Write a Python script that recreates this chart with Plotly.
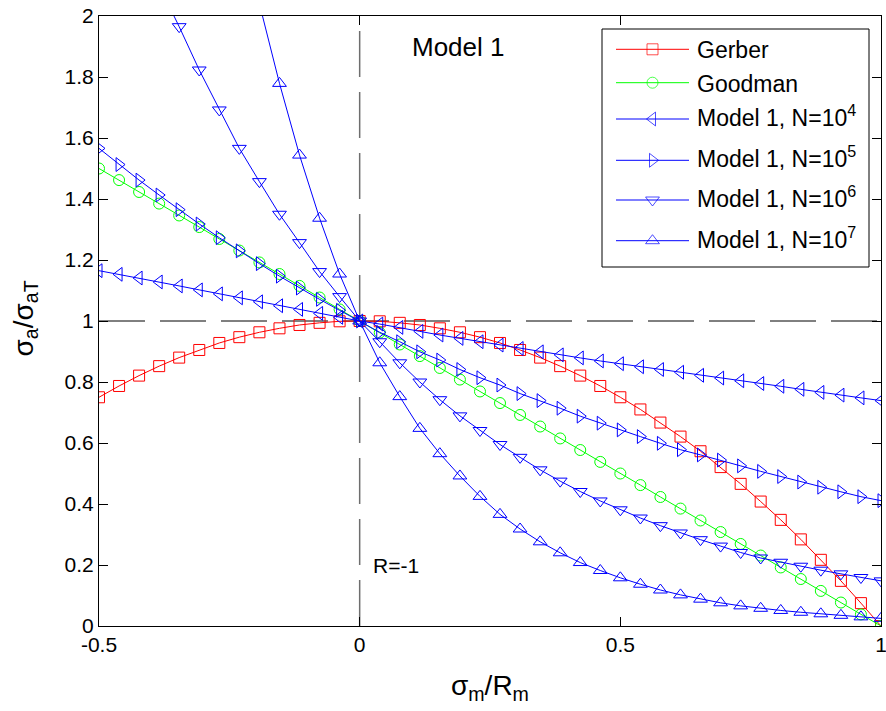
import plotly.graph_objects as go

# mean-stress ratio sigma_m / R_m (40 evaluation points)
x_ratio = [-0.5000, -0.4615, -0.4231, -0.3846, -0.3462, -0.3077, -0.2692, -0.2308,
           -0.1923, -0.1538, -0.1154, -0.0769, -0.0385, 0.0000, 0.0385, 0.0769,
           0.1154, 0.1538, 0.1923, 0.2308, 0.2692, 0.3077, 0.3462, 0.3846,
           0.4231, 0.4615, 0.5000, 0.5385, 0.5769, 0.6154, 0.6538, 0.6923,
           0.7308, 0.7692, 0.8077, 0.8462, 0.8846, 0.9231, 0.9615, 1.0000]

gerber = [0.750, 0.787, 0.821, 0.852, 0.880, 0.905, 0.928, 0.947, 0.963, 0.976,
          0.987, 0.994, 0.999, 1.000, 0.999, 0.994, 0.987, 0.976, 0.963, 0.947,
          0.928, 0.905, 0.880, 0.852, 0.821, 0.787, 0.750, 0.710, 0.667, 0.621,
          0.573, 0.521, 0.466, 0.408, 0.348, 0.284, 0.217, 0.148, 0.075, 0.000]

goodman = [1.500, 1.462, 1.423, 1.385, 1.346, 1.308, 1.269, 1.231, 1.192, 1.154,
           1.115, 1.077, 1.038, 1.000, 0.962, 0.923, 0.885, 0.846, 0.808, 0.769,
           0.731, 0.692, 0.654, 0.615, 0.577, 0.538, 0.500, 0.462, 0.423, 0.385,
           0.346, 0.308, 0.269, 0.231, 0.192, 0.154, 0.115, 0.077, 0.038, 0.000]

model_n4 = [1.165, 1.153, 1.141, 1.128, 1.115, 1.102, 1.089, 1.076, 1.063, 1.050,
            1.038, 1.025, 1.012, 1.000, 0.990, 0.979, 0.966, 0.954, 0.943, 0.932,
            0.921, 0.910, 0.899, 0.889, 0.879, 0.869, 0.860, 0.850, 0.841, 0.832,
            0.822, 0.813, 0.804, 0.795, 0.786, 0.776, 0.766, 0.757, 0.748, 0.739]

model_n5 = [1.566, 1.513, 1.462, 1.413, 1.365, 1.318, 1.273, 1.230, 1.188, 1.147,
            1.108, 1.071, 1.035, 1.000, 0.963, 0.932, 0.899, 0.872, 0.841, 0.814,
            0.790, 0.762, 0.739, 0.714, 0.688, 0.665, 0.643, 0.621, 0.599, 0.578,
            0.561, 0.544, 0.525, 0.507, 0.490, 0.472, 0.455, 0.440, 0.424, 0.411]

model_n6 = [2.550, 2.390, 2.240, 2.100, 1.965, 1.823, 1.692, 1.566, 1.457, 1.350,
            1.257, 1.162, 1.080, 1.000, 0.932, 0.863, 0.800, 0.742, 0.689, 0.641,
            0.595, 0.553, 0.512, 0.475, 0.441, 0.410, 0.381, 0.354, 0.329, 0.305,
            0.283, 0.262, 0.241, 0.223, 0.209, 0.196, 0.183, 0.171, 0.159, 0.148]

model_n7 = [5.500, 4.900, 4.350, 3.850, 3.400, 3.000, 2.650, 2.330, 2.040, 1.779,
            1.544, 1.337, 1.154, 1.000, 0.863, 0.752, 0.648, 0.565, 0.492, 0.425,
            0.366, 0.318, 0.276, 0.240, 0.208, 0.182, 0.158, 0.137, 0.118, 0.102,
            0.088, 0.076, 0.066, 0.058, 0.051, 0.045, 0.040, 0.035, 0.030, 0.025]

x_ticks = [-0.5, 0, 0.5, 1]
x_tick_text = ["-0.5", "0", "0.5", "1"]
y_ticks = [0, 0.2, 0.4, 0.6, 0.8, 1.0, 1.2, 1.4, 1.6, 1.8, 2.0]
y_tick_text = ["0", "0.2", "0.4", "0.6", "0.8", "1", "1.2", "1.4", "1.6", "1.8", "2"]

FONT = "Liberation Sans, Arial, Helvetica, sans-serif"
RED, GREEN, BLUE = "#ff0000", "#00ff00", "#0000ff"

series = [
    ("Gerber", gerber, RED, "square-open", 11),
    ("Goodman", goodman, GREEN, "circle-open", 11),
    ("Model 1, N=10<sup>4</sup>", model_n4, BLUE, "triangle-left-open", 12),
    ("Model 1, N=10<sup>5</sup>", model_n5, BLUE, "triangle-right-open", 12),
    ("Model 1, N=10<sup>6</sup>", model_n6, BLUE, "triangle-down-open", 12),
    ("Model 1, N=10<sup>7</sup>", model_n7, BLUE, "triangle-up-open", 12),
]

# plot area in figure pixels
W, H = 886, 711
PL, PR, PT, PB = 99, 881, 16, 626


def px_x(p):
    return (p - PL) / (PR - PL)


def px_y(p):
    return (PB - p) / (PB - PT)


fig = go.Figure()
for name, yvals, color, symbol, size in series:
    fig.add_trace(go.Scatter(
        x=x_ratio, y=yvals, name=name, mode="lines+markers", showlegend=False,
        line=dict(color=color, width=1),
        marker=dict(symbol=symbol, size=size, color=color,
                    line=dict(color=color, width=1)),
    ))

# reference lines: sigma_a = sigma_aT and sigma_m = 0 (R = -1)
fig.add_shape(type="line", xref="x", yref="y", x0=-0.5, x1=1, y0=1, y1=1,
              line=dict(color="black", width=1, dash="46px,15px"), layer="below")
fig.add_shape(type="line", xref="x", yref="y", x0=0, x1=0, y0=0, y1=2,
              line=dict(color="#6e6e6e", width=1.5, dash="46px,15px"), layer="below")

fig.add_annotation(x=0.19, y=1.90, xref="x", yref="y", text="Model 1",
                   showarrow=False, font=dict(family=FONT, size=26, color="black"))
fig.add_annotation(x=0.021, y=0.20, xref="x", yref="y", text="R=-1",
                   xanchor="left", showarrow=False,
                   font=dict(family=FONT, size=21, color="black"))

# axis titles
fig.add_annotation(x=0.5, y=-0.101, xref="paper", yref="paper",
                   text="σ<sub>m</sub>/R<sub>m</sub>", showarrow=False,
                   xanchor="center", yanchor="middle",
                   font=dict(family=FONT, size=28, color="black"))
fig.add_annotation(x=-0.094, y=0.505, xref="paper", yref="paper",
                   text="σ<sub>a</sub>/σ<sub>aT</sub>", showarrow=False, textangle=-90,
                   xanchor="center", yanchor="middle",
                   font=dict(family=FONT, size=28, color="black"))

# legend box with long line samples
LEG_X0, LEG_X1, LEG_Y0, LEG_Y1 = 602, 869, 29, 267
item_y = [49.3, 82.7, 119, 160.3, 200, 240.7]
line_x0, line_x1, mark_x, text_x = 616, 689, 652.5, 695

fig.add_shape(type="rect", xref="paper", yref="paper",
              x0=px_x(LEG_X0), x1=px_x(LEG_X1), y0=px_y(LEG_Y1), y1=px_y(LEG_Y0),
              fillcolor="white", line=dict(color="black", width=1), layer="below")
for (name, _, color, symbol, size), yy in zip(series, item_y):
    fig.add_shape(type="line", xref="paper", yref="paper",
                  x0=px_x(line_x0), x1=px_x(line_x1), y0=px_y(yy), y1=px_y(yy),
                  line=dict(color=color, width=1), layer="below")
    sup_shift = 0 if "<sup>" not in name else -4
    fig.add_annotation(x=px_x(text_x), y=px_y(yy + 1 + sup_shift), xref="paper", yref="paper",
                       text=name, showarrow=False, xanchor="left", yanchor="middle",
                       font=dict(family=FONT, size=23, color="black"))

fig.add_trace(go.Scatter(
    x=[px_x(mark_x)] * len(series), y=[px_y(v) for v in item_y],
    xaxis="x2", yaxis="y2", mode="markers", showlegend=False, hoverinfo="skip",
    cliponaxis=False,
    marker=dict(symbol=[s[3] for s in series], size=[s[4] for s in series],
                color=[s[2] for s in series],
                line=dict(color=[s[2] for s in series], width=1)),
))

axis_common = dict(
    showgrid=False, zeroline=False, showline=True, linecolor="black", linewidth=1,
    mirror="ticks", ticks="inside", ticklen=9, tickwidth=1, tickcolor="black",
    tickfont=dict(family=FONT, size=21, color="black"),
    ticklabeloverflow="allow",
)
fig.update_xaxes(range=[-0.5, 1], tickvals=x_ticks, ticktext=x_tick_text, **axis_common)
fig.update_yaxes(range=[0, 2], tickvals=y_ticks, ticktext=y_tick_text, **axis_common)

fig.update_layout(
    width=W, height=H,
    margin=dict(l=PL, r=W - PR, t=PT, b=H - PB, autoexpand=False),
    paper_bgcolor="white", plot_bgcolor="white",
    font=dict(family=FONT, color="black"),
    showlegend=False,
    xaxis2=dict(overlaying="x", range=[0, 1], visible=False),
    yaxis2=dict(overlaying="y", range=[0, 1], visible=False),
)

fig.write_html("out.html")
